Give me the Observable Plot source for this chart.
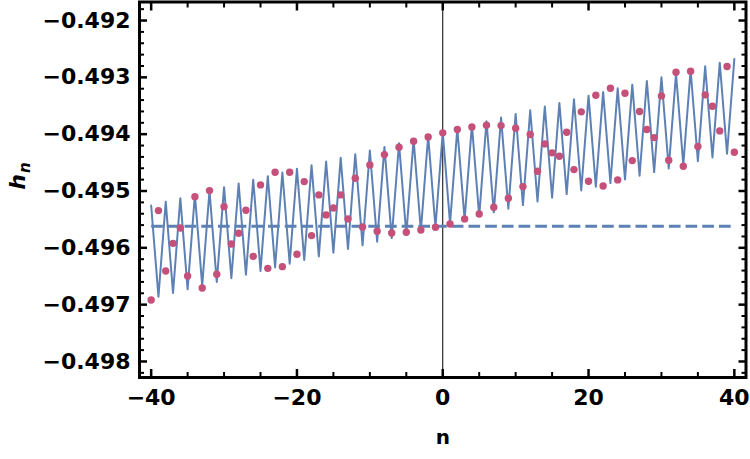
<!DOCTYPE html>
<html><head><meta charset="utf-8">
<script src="https://cdn.jsdelivr.net/npm/d3@7"></script>
<script src="https://cdn.jsdelivr.net/npm/@observablehq/plot@0.6"></script>
<style>html,body{margin:0;padding:0;background:#fff}#chart svg{display:block}</style>
</head><body><div id="chart"></div>
<script>
// index n
const nValues = d3.range(-40, 41);
// dots h_n
const hDots = [
-0.496917,-0.495345,-0.496407,-0.495921,-0.495650,-0.496495,-0.495099,-0.496706,-0.494993,-0.496466,
-0.495275,-0.495932,-0.495744,-0.495340,-0.496150,-0.494893,-0.496361,-0.494670,-0.496331,-0.494670,
-0.496114,-0.494835,-0.495785,-0.495069,-0.495421,-0.495298,-0.495069,-0.495491,-0.494776,-0.495633,
-0.494541,-0.495709,-0.494359,-0.495738,-0.494230,-0.495727,-0.494125,-0.495685,-0.494048,-0.495638,
-0.493977,
-0.495580,-0.493919,-0.495491,-0.493872,-0.495404,-0.493843,-0.495287,-0.493849,-0.495128,-0.493896,
-0.494923,-0.494007,-0.494653,-0.494171,-0.494329,-0.494389,-0.493966,-0.494623,-0.493607,-0.494829,
-0.493315,-0.494911,-0.493192,-0.494805,-0.493280,-0.494465,-0.493602,-0.493919,-0.494060,-0.493326,
-0.494460,-0.492910,-0.494565,-0.492892,-0.494218,-0.493308,-0.493509,-0.493942,-0.492810,-0.494319
];
// zigzag line values
const hLine = [
-0.495255,-0.496859,-0.495190,-0.496794,-0.495126,-0.496730,-0.495062,-0.496665,-0.494997,-0.496601,
-0.494933,-0.496536,-0.494868,-0.496472,-0.494804,-0.496408,-0.494739,-0.496343,-0.494675,-0.496279,
-0.494610,-0.496214,-0.494546,-0.496150,-0.494482,-0.496085,-0.494417,-0.496021,-0.494353,-0.495956,
-0.494288,-0.495892,-0.494224,-0.495828,-0.494159,-0.495763,-0.494095,-0.495699,-0.494030,-0.495634,
-0.493966,
-0.495570,-0.493902,-0.495505,-0.493837,-0.495441,-0.493773,-0.495376,-0.493708,-0.495312,-0.493644,
-0.495248,-0.493579,-0.495183,-0.493515,-0.495119,-0.493450,-0.495054,-0.493386,-0.494990,-0.493322,
-0.494925,-0.493257,-0.494861,-0.493193,-0.494796,-0.493128,-0.494732,-0.493064,-0.494667,-0.492999,
-0.494603,-0.492935,-0.494539,-0.492870,-0.494474,-0.492806,-0.494410,-0.492742,-0.494345,-0.492677
];
// dashed reference level
const dashedN = [-40, 40];
const dashedH = [-0.49562, -0.49562];

const xMajor = [-40, -20, 0, 20, 40];
const xMinor = [-35, -30, -25, -15, -10, -5, 5, 10, 15, 25, 30, 35];
const yMajor = [-0.498, -0.497, -0.496, -0.495, -0.494, -0.493, -0.492];
const yMinor = d3.range(-4982, -4916, 2).filter(v => v % 10 !== 0).map(v => v / 10000);

const data = nValues.map((n, i) => ({n, dot: hDots[i], line: hLine[i]}));
const dashed = dashedN.map((n, i) => ({n, h: dashedH[i]}));

const blue = "#5E81B5";
const pink = "#C5507A";
const MAJ = 8, MIN = 5;

const plot = Plot.plot({
  width: 750,
  height: 459,
  marginLeft: 139,
  marginRight: 4.5,
  marginTop: 1.5,
  marginBottom: 82,
  style: "font-family: 'DejaVu Sans'; font-size: 22px; font-weight: bold; background: #fff; color: #000;",
  x: {domain: [-41.6, 41.6]},
  y: {domain: [-0.498282, -0.491674]},
  marks: [
    Plot.ruleX([0], {stroke: "#000", strokeWidth: 1}),
    Plot.line(data, {x: "n", y: "line", stroke: blue, strokeWidth: 2}),
    Plot.line(dashed, {x: "n", y: "h", stroke: blue, strokeWidth: 2.8, strokeDasharray: "11.7,5", strokeLinecap: "butt"}),
    Plot.dot(data, {x: "n", y: "dot", r: 3.7, fill: pink}),
    Plot.frame({stroke: "#000", strokeWidth: 3}),
    // inward ticks
    Plot.axisX(xMajor, {anchor: "bottom", tickSize: MAJ, dy: -MAJ, strokeWidth: 2.5, fill: "none", label: null}),
    Plot.axisX(xMinor, {anchor: "bottom", tickSize: MIN, dy: -MIN, strokeWidth: 2, fill: "none", label: null}),
    Plot.axisX(xMajor, {anchor: "top", tickSize: MAJ, dy: MAJ, strokeWidth: 2.5, fill: "none", label: null}),
    Plot.axisX(xMinor, {anchor: "top", tickSize: MIN, dy: MIN, strokeWidth: 2, fill: "none", label: null}),
    Plot.axisY(yMajor, {anchor: "left", tickSize: MAJ, dx: MAJ, strokeWidth: 2.5, fill: "none", label: null}),
    Plot.axisY(yMinor, {anchor: "left", tickSize: MIN, dx: MIN, strokeWidth: 2, fill: "none", label: null}),
    Plot.axisY(yMajor, {anchor: "right", tickSize: MAJ, dx: -MAJ, strokeWidth: 2.5, fill: "none", label: null}),
    Plot.axisY(yMinor, {anchor: "right", tickSize: MIN, dx: -MIN, strokeWidth: 2, fill: "none", label: null}),
    // tick labels
    Plot.axisX(xMajor, {anchor: "bottom", tickSize: 0, tickPadding: 12, label: null}),
    Plot.axisY(yMajor, {anchor: "left", tickSize: 0, tickPadding: 9, tickFormat: d3.format(".3f"), label: null}),
    // axis labels
    Plot.text(["n"], {frameAnchor: "bottom", dy: 60, fontSize: 20, fontWeight: "bold", lineAnchor: "middle"}),
    Plot.text(["h"], {frameAnchor: "left", dx: -122, rotate: -90, fontSize: 22, fontStyle: "italic", fontWeight: "bold", lineAnchor: "middle"})
  ]
});
document.getElementById("chart").appendChild(plot);

// subscript n on the y label
for (const t of plot.querySelectorAll("text")) {
  if (t.textContent === "h") {
    const ts = document.createElementNS("http://www.w3.org/2000/svg", "tspan");
    ts.setAttribute("font-size", "15");
    ts.setAttribute("dy", "5");
    ts.setAttribute("dx", "1");
    ts.textContent = "n";
    t.appendChild(ts);
  }
}
</script>
</body></html>
